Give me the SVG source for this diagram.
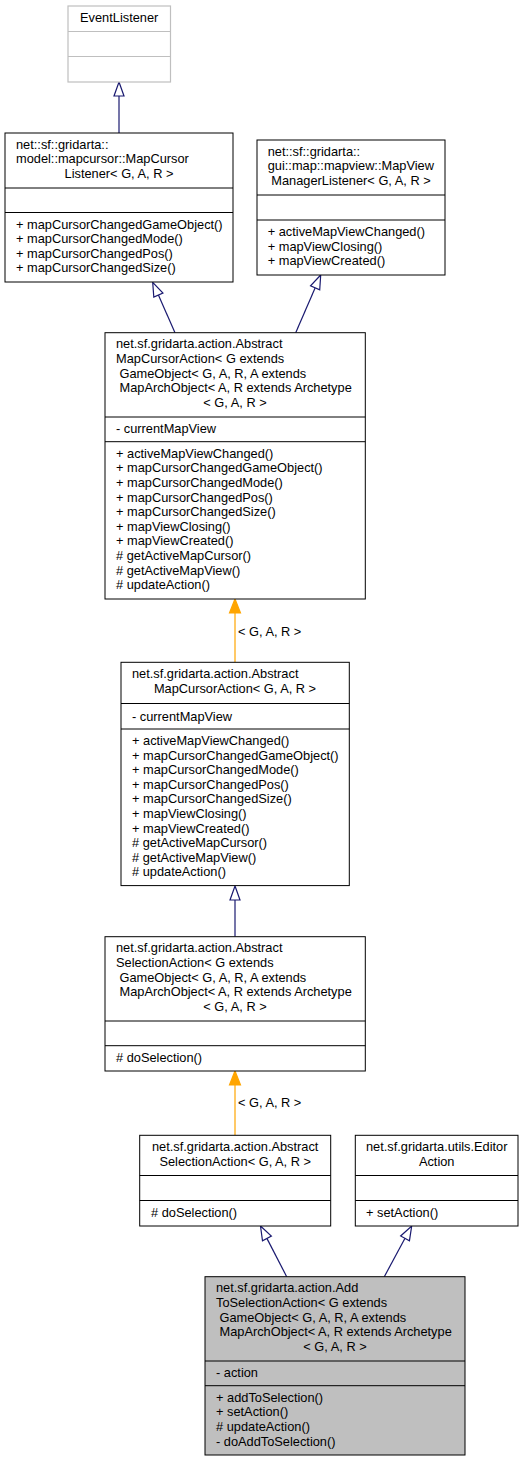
<svg xmlns="http://www.w3.org/2000/svg" width="523" height="1461" viewBox="0 0 523 1461">
<style>
text{font-family:"Liberation Sans",Arial,Helvetica,sans-serif;font-size:12.8px;fill:#000}
.c{text-anchor:middle}
.box{fill:#fff;stroke:#000;stroke-width:1}
.gbox{fill:#fff;stroke:#bfbfbf;stroke-width:1.2}
.hl{fill:#bfbfbf;stroke:#000;stroke-width:1}
.dv{stroke:#000;stroke-width:1}
.gdv{stroke:#bfbfbf;stroke-width:1.2}
.nv{stroke:#191970;stroke-width:1.2;fill:none}
.nvh{stroke:#191970;stroke-width:1.2;fill:#fff}
.or{stroke:#ffa500;stroke-width:1.2;fill:none}
.orh{stroke:#ffa500;stroke-width:1.2;fill:#ffa500}
</style>
<rect width="523" height="1461" fill="#fff"/>
<g id="connectors">
<line class="nv" x1="119" y1="133" x2="119" y2="96"/>
<polygon class="nvh" points="119,82 124,96 114,96"/>
<line class="nv" x1="175" y1="332.7" x2="158.4" y2="295.1"/>
<polygon class="nvh" points="152.7,282.3 162.95,293.09 153.8,297.14"/>
<line class="nv" x1="295.7" y1="332.7" x2="315.1" y2="287.9"/>
<polygon class="nvh" points="320.7,275 319.72,289.84 310.54,285.86"/>
<line class="or" x1="235" y1="662.3" x2="235" y2="613"/>
<polygon class="orh" points="235,599 240.5,613 229.5,613"/>
<text x="238" y="636">&lt; G, A, R &gt;</text>
<line class="nv" x1="235" y1="936.7" x2="235" y2="900"/>
<polygon class="nvh" points="235,886 240,900 230,900"/>
<line class="or" x1="235" y1="1135.3" x2="235" y2="1085"/>
<polygon class="orh" points="235,1071 240.5,1085 229.5,1085"/>
<text x="238" y="1107">&lt; G, A, R &gt;</text>
<line class="nv" x1="286.7" y1="1276.7" x2="266.9" y2="1238.4"/>
<polygon class="nvh" points="260.5,1226 271.37,1236.14 262.49,1240.74"/>
<line class="nv" x1="384.3" y1="1276.7" x2="405" y2="1238.3"/>
<polygon class="nvh" points="411.7,1226 409.44,1240.7 400.64,1235.94"/>
</g>
<g id="EventListener">
<rect class="gbox" x="68" y="6" width="102.5" height="76"/>
<line class="gdv" x1="68" y1="31.5" x2="170.5" y2="31.5"/>
<line class="gdv" x1="68" y1="56.5" x2="170.5" y2="56.5"/>
<text class="c" x="119.2" y="21.6">EventListener</text>
</g>
<g id="MapCursorListener">
<rect class="box" x="5" y="133" width="228" height="149"/>
<line class="dv" x1="5" y1="188" x2="233" y2="188"/>
<line class="dv" x1="5" y1="212.5" x2="233" y2="212.5"/>
<text x="16" y="148.6">net::sf::gridarta::</text>
<text x="16" y="163.2">model::mapcursor::MapCursor</text>
<text class="c" x="119" y="177.8">Listener&lt; G, A, R &gt;</text>
<text x="16" y="228.5">+ mapCursorChangedGameObject()</text>
<text x="16" y="243.1">+ mapCursorChangedMode()</text>
<text x="16" y="257.7">+ mapCursorChangedPos()</text>
<text x="16" y="272.3">+ mapCursorChangedSize()</text>
</g>
<g id="MapViewManagerListener">
<rect class="box" x="257" y="140" width="188" height="135"/>
<line class="dv" x1="257" y1="195" x2="445" y2="195"/>
<line class="dv" x1="257" y1="220" x2="445" y2="220"/>
<text x="267.7" y="155.6">net::sf::gridarta::</text>
<text x="267.7" y="170.2">gui::map::mapview::MapView</text>
<text class="c" x="351" y="184.8">ManagerListener&lt; G, A, R &gt;</text>
<text x="267.7" y="236">+ activeMapViewChanged()</text>
<text x="267.7" y="250.6">+ mapViewClosing()</text>
<text x="267.7" y="265.2">+ mapViewCreated()</text>
</g>
<g id="AbstractMapCursorActionExt">
<rect class="box" x="105" y="332.7" width="260.3" height="266.3"/>
<line class="dv" x1="105" y1="417" x2="365.3" y2="417"/>
<line class="dv" x1="105" y1="441.7" x2="365.3" y2="441.7"/>
<text x="116" y="348.3">net.sf.gridarta.action.Abstract</text>
<text x="116" y="362.9">MapCursorAction&lt; G extends</text>
<text x="119.5" y="377.5">GameObject&lt; G, A, R, A extends</text>
<text x="119.5" y="392.1">MapArchObject&lt; A, R extends Archetype</text>
<text class="c" x="235" y="406.7">&lt; G, A, R &gt;</text>
<text x="116" y="433.3">- currentMapView</text>
<text x="116" y="457.7">+ activeMapViewChanged()</text>
<text x="116" y="472.3">+ mapCursorChangedGameObject()</text>
<text x="116" y="486.9">+ mapCursorChangedMode()</text>
<text x="116" y="501.5">+ mapCursorChangedPos()</text>
<text x="116" y="516.1">+ mapCursorChangedSize()</text>
<text x="116" y="530.7">+ mapViewClosing()</text>
<text x="116" y="545.3">+ mapViewCreated()</text>
<text x="116" y="559.9"># getActiveMapCursor()</text>
<text x="116" y="574.5"># getActiveMapView()</text>
<text x="116" y="589.1"># updateAction()</text>
</g>
<g id="AbstractMapCursorAction">
<rect class="box" x="121" y="662.3" width="228.3" height="223.3"/>
<line class="dv" x1="121" y1="703.5" x2="349.3" y2="703.5"/>
<line class="dv" x1="121" y1="729" x2="349.3" y2="729"/>
<text x="132" y="677.9">net.sf.gridarta.action.Abstract</text>
<text class="c" x="235" y="692.5">MapCursorAction&lt; G, A, R &gt;</text>
<text x="132" y="720.5">- currentMapView</text>
<text x="132" y="745">+ activeMapViewChanged()</text>
<text x="132" y="759.6">+ mapCursorChangedGameObject()</text>
<text x="132" y="774.2">+ mapCursorChangedMode()</text>
<text x="132" y="788.8">+ mapCursorChangedPos()</text>
<text x="132" y="803.4">+ mapCursorChangedSize()</text>
<text x="132" y="818">+ mapViewClosing()</text>
<text x="132" y="832.6">+ mapViewCreated()</text>
<text x="132" y="847.2"># getActiveMapCursor()</text>
<text x="132" y="861.8"># getActiveMapView()</text>
<text x="132" y="876.4"># updateAction()</text>
</g>
<g id="AbstractSelectionActionExt">
<rect class="box" x="105" y="936.7" width="260.3" height="134.3"/>
<line class="dv" x1="105" y1="1021" x2="365.3" y2="1021"/>
<line class="dv" x1="105" y1="1045.7" x2="365.3" y2="1045.7"/>
<text x="116" y="952.3">net.sf.gridarta.action.Abstract</text>
<text x="116" y="966.9">SelectionAction&lt; G extends</text>
<text x="119.5" y="981.5">GameObject&lt; G, A, R, A extends</text>
<text x="119.5" y="996.1">MapArchObject&lt; A, R extends Archetype</text>
<text class="c" x="235" y="1010.7">&lt; G, A, R &gt;</text>
<text x="116" y="1061.7"># doSelection()</text>
</g>
<g id="AbstractSelectionAction">
<rect class="box" x="139.7" y="1135.3" width="191" height="90.7"/>
<line class="dv" x1="139.7" y1="1175.5" x2="330.7" y2="1175.5"/>
<line class="dv" x1="139.7" y1="1200.5" x2="330.7" y2="1200.5"/>
<text class="c" x="235.2" y="1150.9">net.sf.gridarta.action.Abstract</text>
<text class="c" x="235.2" y="1165.5">SelectionAction&lt; G, A, R &gt;</text>
<text x="151" y="1216.5"># doSelection()</text>
</g>
<g id="EditorAction">
<rect class="box" x="355.3" y="1135.3" width="162.7" height="90.7"/>
<line class="dv" x1="355.3" y1="1175.5" x2="518" y2="1175.5"/>
<line class="dv" x1="355.3" y1="1200.5" x2="518" y2="1200.5"/>
<text class="c" x="436.7" y="1150.9">net.sf.gridarta.utils.Editor</text>
<text class="c" x="436.7" y="1165.5">Action</text>
<text x="366" y="1216.5">+ setAction()</text>
</g>
<g id="AddToSelectionAction">
<rect class="hl" x="205" y="1276.7" width="260" height="178.3"/>
<line class="dv" x1="205" y1="1361" x2="465" y2="1361"/>
<line class="dv" x1="205" y1="1385.7" x2="465" y2="1385.7"/>
<text x="216" y="1292.3">net.sf.gridarta.action.Add</text>
<text x="216" y="1306.9">ToSelectionAction&lt; G extends</text>
<text x="219.5" y="1321.5">GameObject&lt; G, A, R, A extends</text>
<text x="219.5" y="1336.1">MapArchObject&lt; A, R extends Archetype</text>
<text class="c" x="335" y="1350.7">&lt; G, A, R &gt;</text>
<text x="216" y="1377.3">- action</text>
<text x="216" y="1401.7">+ addToSelection()</text>
<text x="216" y="1416.3">+ setAction()</text>
<text x="216" y="1430.9"># updateAction()</text>
<text x="216" y="1445.5">- doAddToSelection()</text>
</g>
</svg>
